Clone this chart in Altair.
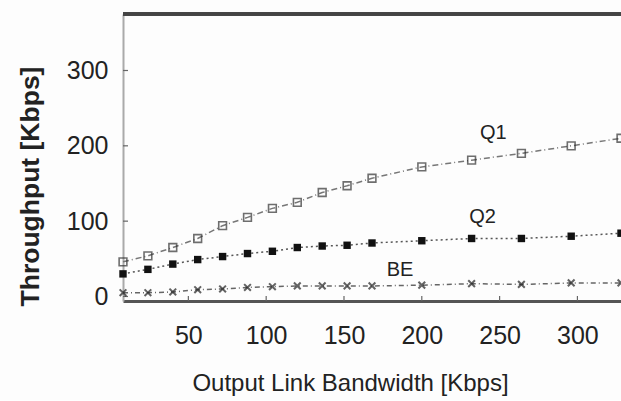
import altair as alt
import pandas as pd

# Data
bandwidth = [8, 24, 40, 56, 72, 88, 104, 120, 136, 152, 168, 200, 232, 264, 296, 328]
q1 = [46, 54, 65, 77, 94, 105, 117, 125, 138, 147, 157, 172, 181, 190, 200, 210]
q2 = [30, 36, 43, 49, 53, 57, 60, 65, 67, 68, 71, 74, 77, 77, 80, 84]
be = [5, 5, 6, 9, 10, 12, 13, 14, 14, 14, 14, 15, 17, 16, 18, 18]

x_ticks = [50, 100, 150, 200, 250, 300]
y_ticks = [0, 100, 200, 300]

label_text = ["Q1", "Q2", "BE"]
label_x = [246, 239, 186]
label_y = [217, 106, 35]

W, H = 498, 287
FONT = "Liberation Sans"

xs = alt.Scale(domain=[8, 328], nice=False, zero=False)
ys = alt.Scale(domain=[-6, 375], nice=False, zero=False)

df_q1 = pd.DataFrame({"x": bandwidth, "y": q1})
df_q2 = pd.DataFrame({"x": bandwidth, "y": q2})
df_be = pd.DataFrame({"x": bandwidth, "y": be})
df_lab = pd.DataFrame({"t": label_text, "x": label_x, "y": label_y})
df_xt = pd.DataFrame({"v": x_ticks})
df_yt = pd.DataFrame({"v": y_ticks})

x_axis = alt.Axis(values=x_ticks, ticks=False, grid=False, labelFontSize=25, labelFont=FONT,
                  labelColor="#222", labelPadding=22, domainColor="#555", domainWidth=3,
                  title="Output Link Bandwidth [Kbps]", titleFont=FONT, titleFontSize=24,
                  titleFontWeight="normal", titleColor="#222", titleX=227, titleY=82,
                  titleAnchor="middle", titleAlign="center", titleBaseline="middle")
y_axis = alt.Axis(values=y_ticks, ticks=False, grid=False, labelFontSize=25, labelFont=FONT,
                  labelColor="#222", labelPadding=15, domainColor="#aaa", domainWidth=2,
                  title="Throughput [Kbps]", titleFont=FONT, titleFontSize=26.5,
                  titleFontWeight="bold", titleColor="#222", titleX=-93, titleY=172,
                  titleAngle=-90, titleAlign="center", titleBaseline="middle")

base_x = alt.X("x:Q", scale=xs, axis=x_axis)
base_y = alt.Y("y:Q", scale=ys, axis=y_axis)

def series(df, dash, color):
    return alt.Chart(df).mark_line(strokeDash=dash, color=color, strokeWidth=1.5).encode(
        x=alt.X("x:Q", scale=xs), y=alt.Y("y:Q", scale=ys))

axes_holder = alt.Chart(df_q1).mark_point(opacity=0).encode(x=base_x, y=base_y)

l1 = series(df_q1, [6, 3, 1, 3], "#777")
l2 = series(df_q2, [2, 3], "#555")
l3 = series(df_be, [5, 3, 1, 3], "#666")

p1 = alt.Chart(df_q1).mark_point(shape="square", size=60, filled=False, color="#333",
                                 strokeWidth=1.6).encode(x=alt.X("x:Q", scale=xs), y=alt.Y("y:Q", scale=ys))
p2 = alt.Chart(df_q2).mark_point(shape="square", size=55, filled=True, color="#111",
                                 opacity=1).encode(x=alt.X("x:Q", scale=xs), y=alt.Y("y:Q", scale=ys))
p3 = alt.Chart(df_be).mark_point(shape="M-1,-1L1,1M-1,1L1,-1", size=45, filled=False,
                                 color="#222", strokeWidth=2).encode(
    x=alt.X("x:Q", scale=xs), y=alt.Y("y:Q", scale=ys))

labels = alt.Chart(df_lab).mark_text(font=FONT, fontSize=20, color="#222").encode(
    x=alt.X("x:Q", scale=xs), y=alt.Y("y:Q", scale=ys), text="t:N")

xticks = alt.Chart(df_xt).mark_rule(color="#666", strokeWidth=1.2).encode(
    x=alt.X("v:Q", scale=xs), y=alt.value(H), y2=alt.value(H - 5))
yticks = alt.Chart(df_yt).mark_rule(color="#666", strokeWidth=1.2).encode(
    y=alt.Y("v:Q", scale=ys), x=alt.value(0), x2=alt.value(5))

top_border = alt.Chart(df_xt).mark_rule(color="#444", strokeWidth=3).encode(
    x=alt.value(0), x2=alt.value(W), y=alt.value(0))

chart = alt.layer(axes_holder, xticks, yticks, top_border, l1, l2, l3, p1, p2, p3, labels).properties(
    width=W, height=H,
    autosize=alt.AutoSizeParams(type="none"),
    padding={"left": 123, "top": 14, "right": 0, "bottom": 99},
    background="#fdfdfd",
).configure_view(strokeOpacity=0)

chart.save("out.html", embed_options={"renderer": "svg", "actions": False})
